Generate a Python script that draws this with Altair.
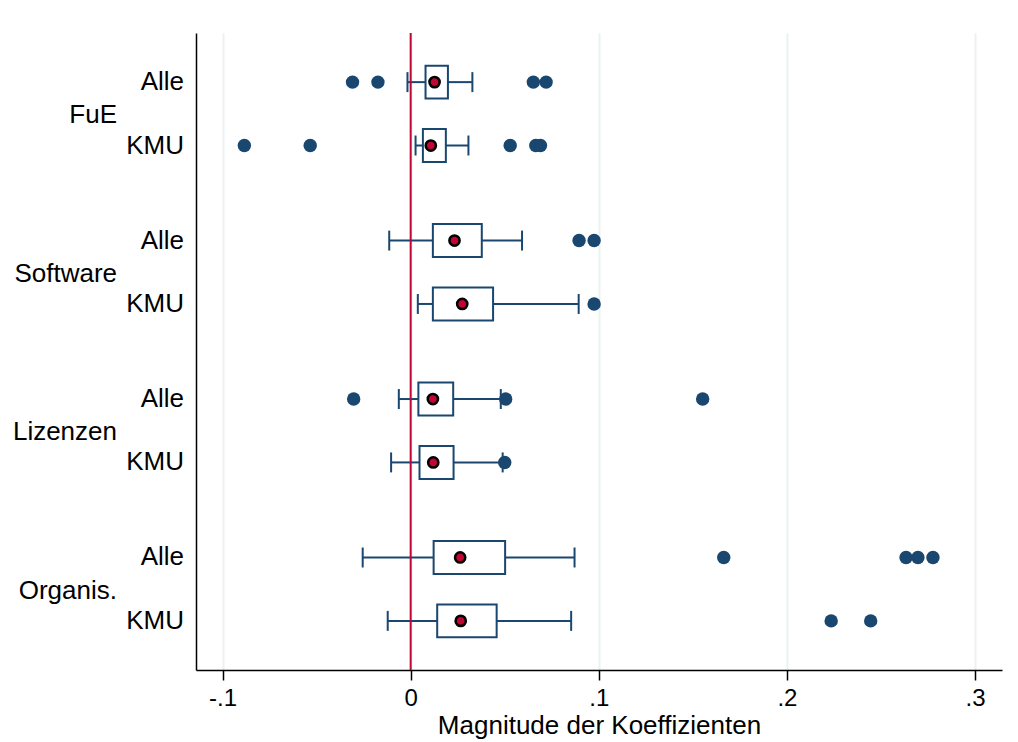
import altair as alt
import pandas as pd

# ---- data ----
groups = ["FuE", "Software", "Lizenzen", "Organis."]
samples = ["Alle", "KMU"]

# one entry per (group, sample) in order FuE-Alle, FuE-KMU, Software-Alle, ...
whisker_lo = [-0.0017, 0.0026, -0.0114, 0.0038, -0.0063, -0.0104, -0.0255, -0.0122]
q1 = [0.0079, 0.0065, 0.0118, 0.0118, 0.0041, 0.0047, 0.0122, 0.0141]
q3 = [0.0198, 0.0187, 0.0378, 0.0438, 0.0226, 0.0228, 0.0502, 0.0457]
whisker_hi = [0.0328, 0.0307, 0.0592, 0.0893, 0.0479, 0.0489, 0.0871, 0.0853]
center_dot = [0.0127, 0.0107, 0.0233, 0.0274, 0.0118, 0.0120, 0.0263, 0.0266]
outliers = [
    [-0.0309, -0.0174, 0.0652, 0.0720],
    [-0.0884, -0.0534, 0.0529, 0.0665, 0.0690],
    [0.0895, 0.0975],
    [0.0975],
    [-0.0303, 0.0505, 0.1552],
    [0.0500],
    [0.1664, 0.2633, 0.2696, 0.2776],
    [0.2235, 0.2445],
]
x_ticks = [-0.1, 0.0, 0.1, 0.2, 0.3]

NAVY = "#1a476f"
RED = "#c10534"
GRID = "#eaf2f3"
FONT = "Liberation Sans"

rows = []
out_rows = []
k = 0
for gi, g in enumerate(groups):
    for si, s in enumerate(samples):
        rows.append(dict(group=g, sample=s, gi=gi, si=si,
                         lo=whisker_lo[k], q1=q1[k], q3=q3[k],
                         hi=whisker_hi[k], dot=center_dot[k]))
        for v in outliers[k]:
            out_rows.append(dict(gi=gi, si=si, value=v))
        k += 1
box_df = pd.DataFrame(rows)
out_df = pd.DataFrame(out_rows)
grp_df = pd.DataFrame(dict(group=groups, gi=list(range(len(groups)))))

xscale = alt.Scale(domain=[-0.1141, 0.3143], nice=False, zero=False)
xaxis = alt.Axis(
    values=x_ticks,
    labelExpr="datum.value == 0 ? '0' : (datum.value < 0 ? '-' : '') + replace(format(abs(datum.value), '.1f'), '0.', '.')",
    title="Magnitude der Koeffizienten",
    grid=True, gridColor=GRID, gridWidth=2,
    domainColor="black", domainWidth=1.5,
    tickColor="black", tickWidth=1.5, tickSize=10,
    labelFont=FONT, labelFontSize=24, labelColor="black", labelPadding=6,
    titleFont=FONT, titleFontSize=26, titleFontWeight="normal",
    titleColor="black", titlePadding=2,
    labelFlush=False,
)
yscale = alt.Scale(domain=[-1.55, 18.55], reverse=True, nice=False, zero=False)
yaxis = alt.Axis(labels=False, ticks=False, grid=False, title=None,
                 domainColor="black", domainWidth=1.5)


def X(f):
    return alt.X(f, type="quantitative", scale=xscale, axis=xaxis)


def Y(f):
    return alt.Y(f, type="quantitative", scale=yscale, axis=yaxis)


pos_calc = dict(
    pos="datum.gi * 5 + datum.si * 2",
)

base = alt.Chart(box_df).transform_calculate(**pos_calc).transform_calculate(
    btop="datum.pos - 0.52", bbot="datum.pos + 0.52",
    ctop="datum.pos - 0.315", cbot="datum.pos + 0.315",
)

whisk_l = base.mark_rule(color=NAVY, strokeWidth=2).encode(
    x=X("lo"), x2=alt.X2("q1"), y=Y("pos"))
whisk_r = base.mark_rule(color=NAVY, strokeWidth=2).encode(
    x=X("q3"), x2=alt.X2("hi"), y=Y("pos"))
cap_l = base.mark_rule(color=NAVY, strokeWidth=2).encode(
    x=X("lo"), y=Y("ctop"), y2=alt.Y2("cbot"))
cap_r = base.mark_rule(color=NAVY, strokeWidth=2).encode(
    x=X("hi"), y=Y("ctop"), y2=alt.Y2("cbot"))
boxes = base.mark_rect(fill="white", stroke=NAVY, strokeWidth=2).encode(
    x=X("q1"), x2=alt.X2("q3"), y=Y("btop"), y2=alt.Y2("bbot"))

zero_line = alt.Chart(pd.DataFrame(dict(v=[0.0]))).mark_rule(
    color=RED, strokeWidth=2).encode(x=X("v"))

outl = alt.Chart(out_df).transform_calculate(**pos_calc).mark_point(
    shape="circle", filled=True, color=NAVY, opacity=1, size=180).encode(
    x=X("value"), y=Y("pos"))

dots = base.mark_point(shape="circle", filled=True, fill=RED, stroke="black",
                       strokeWidth=2.5, opacity=1, size=105).encode(
    x=X("dot"), y=Y("pos"))

sub_labels = base.mark_text(align="right", baseline="middle", font=FONT,
                            fontSize=26, color="black").encode(
    x=alt.value(-12), y=Y("pos"), text="sample:N")

grp_labels = alt.Chart(grp_df).transform_calculate(
    pos="datum.gi * 5 + 1.05").mark_text(
    align="right", baseline="middle", font=FONT, fontSize=26,
    color="black").encode(x=alt.value(-79), y=Y("pos"), text="group:N")

chart = alt.layer(
    whisk_l, whisk_r, zero_line, cap_l, cap_r, boxes, outl, dots,
    sub_labels, grp_labels,
).properties(
    width=806, height=637,
    autosize=alt.AutoSizeParams(type="none"),
    padding={"left": 188, "top": 25, "right": 8, "bottom": 70},
    background="white",
).configure_view(stroke=None)

chart.save("out.html", embed_options={"renderer": "svg", "actions": False})
